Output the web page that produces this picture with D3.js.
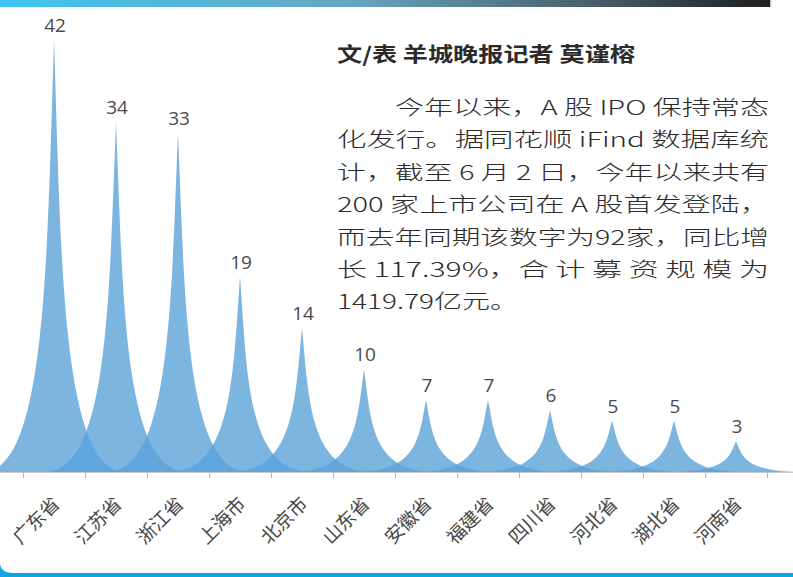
<!DOCTYPE html>
<html>
<head>
<meta charset="utf-8">
<script src="https://cdn.jsdelivr.net/npm/d3@7"></script>
<style>
  html, body { margin: 0; padding: 0; background: #fff; }
  svg { display: block; }
</style>
</head>
<body>
<svg id="chart" width="793" height="577"></svg>
<script>
// IPO counts by province, this year to 2 June
const provinces = ['广东省', '江苏省', '浙江省', '上海市', '北京市', '山东省',
                   '安徽省', '福建省', '四川省', '河北省', '湖北省', '河南省'];
const counts = [42, 34, 33, 19, 14, 10, 7, 7, 6, 5, 5, 3];

const byline = '文/表 羊城晚报记者 莫谨榕';
const paragraph = [
    '今年以来，A 股 IPO 保持常态',
    '化发行。据同花顺 iFind 数据库统',
    '计，截至 6 月 2 日，今年以来共有',
    '200 家上市公司在 A 股首发登陆，',
    '而去年同期该数字为92家，同比增',
    '长 117.39%，合 计 募 资 规 模 为',
    '1419.79亿元。'
];

const width = 793, height = 577;
const svg = d3.select('#chart');

// top strip
const defs = svg.append('defs');
const grad = defs.append('linearGradient').attr('id', 'topbar');
[[0, '#3ec6f1'], [0.45, '#67a7c1'], [0.75, '#4a6470'], [1, '#1f1f1f']].forEach(s =>
    grad.append('stop').attr('offset', s[0]).attr('stop-color', s[1]));
svg.append('rect').attr('x', 0).attr('y', 0).attr('width', 770).attr('height', 7)
    .attr('fill', 'url(#topbar)');
svg.append('rect').attr('x', 770).attr('y', 0).attr('width', 1.5).attr('height', 7)
    .attr('fill', '#ccc');

// bottom blue frame with rounded corner of the white panel
svg.append('path')
    .attr('d', `M0,562 Q0,573 13,573 L${width},573 L${width},${height} L0,${height} Z`)
    .attr('fill', '#0ea6e0');

const x = d3.scaleBand().domain(provinces).range([23, 767]).paddingInner(0);
const y = d3.scaleLinear().domain([0, 42]).range([472, 40]);
const y0 = y(0);
const half = x.bandwidth() * 2.3 / 2;   // spikes overlap their neighbours

function spike(d, i) {
    const cx = x(provinces[i]) + x.bandwidth() / 2;
    const top = y(d), h = y0 - top;
    const c = half * 0.1;
    return `M${cx - half},${y0} L${cx + half},${y0}` +
        ` C${cx + c},${y0} ${cx + c},${y0 - h / 2} ${cx},${top}` +
        ` C${cx - c},${y0 - h / 2} ${cx - c},${y0} ${cx - half},${y0} Z`;
}

// axis line + boundary ticks
const tickScale = d3.scaleLinear().domain([0, provinces.length]).range(x.range());
const axis = svg.append('g')
    .attr('transform', `translate(0,${y0})`)
    .call(d3.axisBottom(tickScale).ticks(provinces.length).tickSize(6).tickFormat(''));
axis.select('.domain').attr('d', `M0,0.5H${width}`).attr('stroke', '#c8c8c8');
axis.selectAll('.tick line').attr('stroke', '#bdbdbd');

svg.append('g')
    .selectAll('path')
    .data(counts)
    .join('path')
    .attr('d', spike)
    .attr('fill', 'rgb(88,160,216)')
    .attr('fill-opacity', 0.78);

svg.append('g')
    .attr('font-family', '"Open Sans", sans-serif')
    .attr('font-size', 19)
    .attr('fill', '#4a4a4a')
    .attr('text-anchor', 'middle')
    .selectAll('text')
    .data(counts)
    .join('text')
    .attr('x', (d, i) => x(provinces[i]) + x.bandwidth() / 2 + 1)
    .attr('y', d => y(d) - 8)
    .text(d => d);

svg.append('g')
    .attr('font-family', '"Noto Sans CJK SC", sans-serif')
    .attr('font-size', 19)
    .attr('fill', '#484848')
    .attr('text-anchor', 'end')
    .selectAll('text')
    .data(provinces)
    .join('text')
    .attr('transform', d => `translate(${x(d) + x.bandwidth() / 2 + 7},${y0 + 33}) rotate(-45)`)
    .text(d => d);

// text block
const txt = svg.append('g')
    .attr('fill', '#2b2b2b');

txt.append('text')
    .attr('x', 337).attr('y', 62)
    .attr('font-family', '"Noto Sans CJK SC", sans-serif')
    .attr('font-size', 20.5)
    .attr('font-weight', 'bold')
    .attr('textLength', 298)
    .attr('lengthAdjust', 'spacingAndGlyphs')
    .text(byline);

const lineStart = [395, 337, 337, 337, 337, 337, 337];
const lineEnd = [769, 769, 769, 769, 769, 769, 518];
txt.selectAll('text.p')
    .data(paragraph)
    .join('text')
    .attr('class', 'p')
    .attr('x', (d, i) => lineStart[i])
    .attr('y', (d, i) => 115 + i * 32.4)
    .attr('font-family', '"Noto Sans CJK SC Light", "Noto Sans CJK SC", sans-serif')
    .attr('font-weight', 300)
    .attr('font-size', 20.5)
    .attr('textLength', (d, i) => lineEnd[i] - lineStart[i])
    .attr('lengthAdjust', 'spacingAndGlyphs')
    .text(d => d);
</script>
</body>
</html>
